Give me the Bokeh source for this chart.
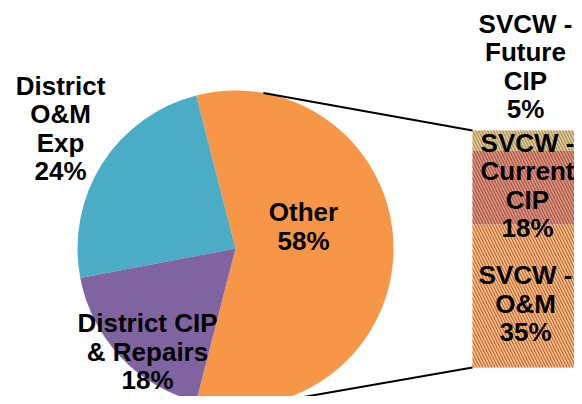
import numpy as np
from bokeh.plotting import figure
from bokeh.models import Range1d, ColumnDataSource
from bokeh.core.properties import value
from bokeh.embed import file_html
from bokeh.resources import INLINE

# ---------------- data ----------------
pie_names = ["Other", "District O&M Exp", "District CIP & Repairs"]
pie_label_lines = ["Other", "District\nO&M\nExp", "District CIP\n& Repairs"]
pie_values = [58, 24, 18]

bar_names = ["SVCW - O&M", "SVCW - Current CIP", "SVCW - Future CIP"]
bar_label_lines = ["SVCW -\nO&M", "SVCW -\nCurrent\nCIP", "SVCW -\nFuture\nCIP"]
bar_values = [35, 18, 5]

# ---------------- layout / style ----------------
W, H = 574, 396
CX, CY, R = 235, 148, 158          # pie centre / radius (pixel-like data units)
BAR_LEFT, BAR_W = 472, 110
BAR_BOTTOM, BAR_H = 29, 237
pie_colors = ["#F79646", "#4BACC6", "#8064A2"]
bar_fill = ["#FBC092", "#DC9293", "#F7C28F"]
bar_hatch = ["#C0692A", "#A85A30", "#8E9A60"]
# label offsets (pixels) from pie centre
pie_label_dx = [68, -175, -88]
pie_label_dy = [22, 120, -103]
FONT = value("Liberation Sans")
LH = 0.95

p = figure(width=W, height=H, output_backend="svg", toolbar_location=None,
           x_range=Range1d(0, W), y_range=Range1d(0, H),
           x_axis_type=None, y_axis_type=None, min_border=0,
           outline_line_color=None, background_fill_color="white")
p.grid.visible = False

# ---------------- pie ----------------
vals = np.array(pie_values, dtype=float)
total = vals.sum()
ang = vals / total * 2 * np.pi
start0 = -ang[0] / 2
starts = start0 + np.concatenate([[0], np.cumsum(ang)[:-1]])
ends = starts + ang
pie_src = ColumnDataSource(dict(x=[CX] * len(vals), y=[CY] * len(vals),
                                start=starts, end=ends, color=pie_colors))
p.wedge(x="x", y="y", radius=R, start_angle="start", end_angle="end",
        fill_color="color", line_color=None, source=pie_src)

pie_txt = [f"{l}\n{v}%" for l, v in zip(pie_label_lines, pie_values)]
p.text(x=[CX + d for d in pie_label_dx], y=[CY + d for d in pie_label_dy],
       text=pie_txt, text_font=FONT, text_font_style="bold",
       text_font_size="26px", text_align="center", text_baseline="middle",
       text_line_height=LH, text_color="black")

# ---------------- bar ----------------
bv = np.array(bar_values, dtype=float)
scale = BAR_H / bv.sum()
tops = BAR_BOTTOM + np.cumsum(bv) * scale
bottoms = tops - bv * scale
p.quad(left=[BAR_LEFT] * 3, right=[BAR_LEFT + BAR_W] * 3, bottom=bottoms, top=tops,
       fill_color=bar_fill, line_color=None,
       hatch_pattern="left_diagonal_line", hatch_color=bar_hatch,
       hatch_scale=6, hatch_weight=1.2)

bar_txt = [f"{l}\n{v}%" for l, v in zip(bar_label_lines, bar_values)]
bx = BAR_LEFT + BAR_W / 2
label_y = list((bottoms + tops) / 2)
label_y[0] -= 8
label_y[1] += 2
label_y[2] = tops[2] + 64   # smallest segment labelled above the bar
p.text(x=[bx - 2, bx, bx - 2], y=label_y, text=bar_txt, text_font=FONT,
       text_font_style="bold", text_font_size="26px", text_align="center",
       text_baseline="middle", text_line_height=LH, text_color="black")

# ---------------- connector lines (tangents) ----------------
def tangent(px, py, sign):
    d = np.hypot(px - CX, py - CY)
    base = np.arctan2(py - CY, px - CX)
    a = base + sign * np.arccos(R / d)
    return CX + R * np.cos(a), CY + R * np.sin(a)

for py, sgn in [(tops[-1], 1), (BAR_BOTTOM, -1)]:
    tx, ty = tangent(BAR_LEFT, py, sgn)
    p.line([tx, BAR_LEFT], [ty, py], line_color="black", line_width=2)

open("out.html", "w").write(file_html(p, INLINE))
